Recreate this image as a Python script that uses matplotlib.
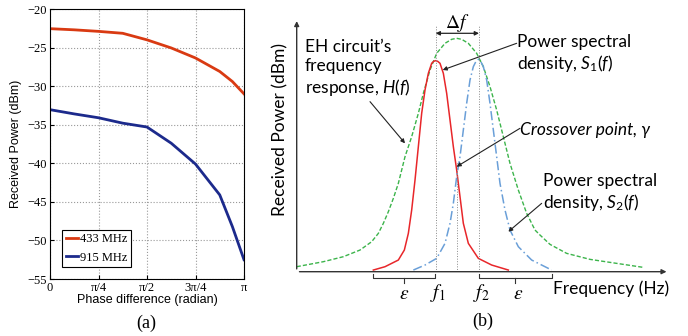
import numpy as np
import matplotlib
matplotlib.use("Agg")
import matplotlib.pyplot as plt

plt.rcParams['mathtext.fontset'] = 'custom'
plt.rcParams['mathtext.rm'] = 'Lato'
plt.rcParams['mathtext.it'] = 'Lato:style=italic'

# ---- panel (a): received power vs phase difference ----
phase = np.array([0, 1/8, 1/4, 3/8, 1/2, 5/8, 3/4, 7/8, 0.94, 1]) * np.pi
p433 = [-22.55, -22.7, -22.9, -23.15, -24.0, -25.05, -26.35, -28.1, -29.4, -31.0]
p915 = [-33.05, -33.6, -34.1, -34.8, -35.3, -37.4, -40.1, -44.1, -48.2, -52.5]
xtick_vals = np.array([0, 0.25, 0.5, 0.75, 1]) * np.pi
xtick_labels = ["0", "π/4", "π/2", "3π/4", "π"]

# ---- panel (b): schematic spectra (arbitrary units) ----
h_x = [110, 190, 250, 300, 335, 355, 370, 385, 400, 415, 435, 455, 475, 490, 510,
       530, 555, 575, 590, 605, 625, 650, 670, 690, 710, 730, 750, 775, 800, 825,
       840, 870, 920, 990, 1070, 1150]
h_y = [15, 30, 45, 65, 90, 115, 145, 180, 220, 265, 345, 405, 475, 535, 605,
       655, 685, 697, 700, 697, 685, 655, 615, 555, 485, 405, 325, 245, 175, 125,
       110, 82, 55, 37, 25, 13]
s1_x = [340, 375, 415, 433, 445, 455, 465, 475, 485, 495, 505, 515, 521, 527,
        533, 540, 550, 560, 570, 580, 590, 600, 610, 625, 655, 695, 745]
s1_y = [5, 15, 35, 65, 115, 185, 275, 375, 475, 545, 595, 625, 631, 633,
        631, 625, 595, 535, 455, 375, 305, 225, 145, 85, 40, 20, 5]
s2_x = [460, 495, 530, 555, 570, 580, 590, 600, 610, 620, 630, 640, 648, 655,
        662, 670, 680, 690, 700, 710, 720, 735, 750, 775, 815, 875]
s2_y = [5, 20, 40, 85, 145, 205, 285, 345, 425, 505, 575, 615, 631, 637,
        631, 615, 575, 505, 425, 345, 265, 185, 125, 75, 35, 5]
f1, f2, f_cross = 527, 657, 592

fig = plt.figure(figsize=(6.88, 3.36), dpi=100)

serif = "Liberation Serif"
sans = "Liberation Sans"

ax = fig.add_axes([50/688, 1-279/336, 194/688, 270/336])
ax.plot(phase, p433, color="#d93a12", lw=2, label="433 MHz")
ax.plot(phase, p915, color="#1c2a8c", lw=2, label="915 MHz")
ax.set_xlim(0, np.pi)
ax.set_ylim(-55, -20)
ax.set_xticks(xtick_vals)
ax.set_xticklabels(xtick_labels, fontfamily=serif, fontsize=9)
ax.set_yticks(np.arange(-55, -19, 5))
ax.set_yticklabels([f"\u2212{abs(v)}" for v in range(-55, -19, 5)], fontfamily=serif, fontsize=9)
ax.tick_params(direction="in", length=3, pad=2)
ax.grid(True, linestyle=":", color="#999999", lw=0.8)
ax.set_xlabel("Phase difference (radian)", fontfamily=sans, fontsize=9, labelpad=0)
ax.set_ylabel("Received Power (dBm)", fontfamily=sans, fontsize=9, labelpad=4)
leg = ax.legend(loc="lower left", prop={"family": serif, "size": 9}, handlelength=1.0,
                handletextpad=0.1, borderpad=0.3, fancybox=False, framealpha=1,
                edgecolor="black", bbox_to_anchor=(0.03, 0.02))
leg.get_frame().set_linewidth(0.8)
fig.text(146.7/688, 1-323/336, "(a)", fontfamily=serif, fontsize=13, ha="center", va="center")

# ---- panel (b) ----
bx = fig.add_axes([296.7/688, 1-271.7/336, 372.6/688, 253.4/336])
bx.set_xlim(110, 1228)
bx.set_ylim(0, 760)
bx.axis("off")
bx.annotate("", xy=(1, 0), xytext=(0, 0), xycoords="axes fraction",
            arrowprops=dict(arrowstyle="-|>", lw=1.0, color="#333333", mutation_scale=7))
bx.annotate("", xy=(0, 1), xytext=(0, 0), xycoords="axes fraction",
            arrowprops=dict(arrowstyle="-|>", lw=1.0, color="#333333", mutation_scale=7))

bx.plot(h_x, h_y, color="#3cb44b", lw=1.0, ls=(0, (3, 1.5)))
bx.plot(s1_x, s1_y, color="#e8262a", lw=1.1)
bx.plot(s2_x, s2_y, color="#6a9fd8", lw=1.1, ls=(0, (6, 2, 1, 2)))

for fx, top in [(f1, 740), (f2, 740), (f_cross, 330)]:
    bx.plot([fx, fx], [0, top], color="#888888", lw=0.7, ls=":")

bx.annotate("", xy=(f1, 715), xytext=(f2, 715),
            arrowprops=dict(arrowstyle="<|-|>", lw=0.9, color="#222222", mutation_scale=6,
                            shrinkA=0, shrinkB=0))
bx.text(592, 745, r"$\Delta f$", math_fontfamily="stix", fontsize=14, ha="center", va="center")

tfont = ["Lato", "DejaVu Sans"]
bx.text(135, 610, "EH circuit\u2019s\nfrequency\nresponse, $\\mathit{H(f)}$", fontfamily=tfont,
        fontsize=12.5, ha="left", va="center", linespacing=1.2)
bx.text(770, 652, "Power spectral\ndensity, $\\mathit{S_1(f)}$", fontfamily=tfont,
        fontsize=12.5, ha="left", va="center", linespacing=1.2, clip_on=False)
bx.text(780, 425, "Crossover point, \u03b3", fontfamily=tfont, style="italic",
        fontsize=12.5, ha="left", va="center", clip_on=False)
bx.text(848, 235, "Power spectral\ndensity, $\\mathit{S_2(f)}$", fontfamily=tfont,
        fontsize=12.5, ha="left", va="center", linespacing=1.2, clip_on=False)

arrow_kw = dict(arrowstyle="-|>", lw=0.8, color="#222222", mutation_scale=6, shrinkA=0, shrinkB=0)
bx.annotate("", xy=(435, 385), xytext=(330, 510), arrowprops=arrow_kw)
bx.annotate("", xy=(548, 605), xytext=(770, 685), arrowprops=arrow_kw)
bx.annotate("", xy=(590, 315), xytext=(780, 430), arrowprops=arrow_kw)
bx.annotate("", xy=(745, 120), xytext=(845, 205), arrowprops=arrow_kw)

# brackets under the frequency axis
for a, b in [(340, 525), (657, 875)]:
    bx.plot([a, a, b, b], [-8, -20, -20, -8], color="#333333", lw=0.8, clip_on=False)
    bx.plot([(a + b) / 2, (a + b) / 2], [-20, -33], color="#333333", lw=0.8, clip_on=False)
for xx, s in [(432, r"$\varepsilon$"), (535, r"$f_1$"), (665, r"$f_2$"), (775, r"$\varepsilon$")]:
    bx.text(xx, -65, s, math_fontfamily="stix", fontsize=14, ha="center", va="center", clip_on=False)
bx.text(880, -50, "Frequency (Hz)", fontfamily=tfont, fontsize=12.5, ha="left", va="center", clip_on=False)
bx.text(60, 425, "Received Power (dBm)", fontfamily=tfont, fontsize=12.5, rotation=90,
        ha="center", va="center", clip_on=False)
fig.text(482.7/688, 1-321/336, "(b)", fontfamily=serif, fontsize=13, ha="center", va="center")

fig.savefig("out.png", dpi=100)
